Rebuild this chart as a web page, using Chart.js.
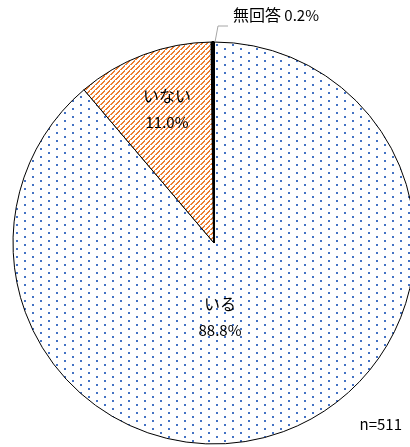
<!DOCTYPE html>
<html>
<head>
<meta charset="utf-8">
<script src="https://cdn.jsdelivr.net/npm/chart.js@4"></script>
<style>
  html, body { margin: 0; padding: 0; background: #fff; overflow: hidden; }
  #wrap { width: 410px; height: 447px; overflow: hidden; position: relative; }
</style>
</head>
<body>
<div id="wrap"><canvas id="pie" width="430" height="447"></canvas></div>
<script>
const categories = ["いる", "いない", "無回答"];
const values = [88.8, 11.0, 0.2];
const sampleNote = "n=511";

// dotted blue fill
function dotPattern() {
  const c = document.createElement("canvas");
  c.width = 16; c.height = 8;
  const g = c.getContext("2d");
  g.fillStyle = "#fff";
  g.fillRect(0, 0, 16, 8);
  g.fillStyle = "#4472C4";
  g.fillRect(0, 0, 2, 2);
  g.fillRect(8, 4, 2, 2);
  return g.createPattern(c, "repeat");
}

// orange diagonal stripes
function stripePattern() {
  const c = document.createElement("canvas");
  c.width = 5; c.height = 5;
  const g = c.getContext("2d");
  g.fillStyle = "#fff";
  g.fillRect(0, 0, 5, 5);
  g.fillStyle = "#ED7D31";
  for (let i = 0; i < 5; i++) {
    g.fillRect(i, 4 - i, 1, 1);
    if (i < 4) g.fillRect(i + 1, 4 - i, 1, 1);
  }
  return g.createPattern(c, "repeat");
}

// label offsets from the pie centre (name line; value line sits 26px lower)
const labelSpots = [[6, 61], [-47, -147], null];

const labelPlugin = {
  id: "labels",
  afterDraw(chart) {
    const ctx = chart.ctx;
    const arc = chart.getDatasetMeta(0).data[0];
    const cx = arc.x, cy = arc.y, r = arc.outerRadius;
    const jp = "16px 'Noto Sans CJK JP', 'Noto Sans', sans-serif";
    const num = "15px 'Noto Sans CJK JP', 'Noto Sans', sans-serif";
    ctx.save();
    ctx.fillStyle = "#000";
    ctx.textAlign = "center";
    ctx.textBaseline = "middle";
    labelSpots.forEach((p, i) => {
      if (!p) return;
      ctx.font = jp;
      ctx.fillText(categories[i], cx + p[0], cy + p[1]);
      ctx.font = num;
      ctx.fillText(values[i].toFixed(1) + "%", cx + p[0], cy + p[1] + 26);
    });

    // leader for 無回答
    const topY = cy - r;
    ctx.strokeStyle = "#a6a6a6";
    ctx.lineWidth = 1;
    ctx.beginPath();
    ctx.moveTo(cx + 1, topY);
    ctx.lineTo(cx + 4, topY - 16);
    ctx.lineTo(cx + 14, topY - 16);
    ctx.stroke();
    ctx.textAlign = "left";
    ctx.font = jp;
    ctx.fillText(categories[2], cx + 19, topY - 27);
    const w = ctx.measureText(categories[2]).width;
    ctx.font = num;
    ctx.fillText(" " + values[2].toFixed(1) + "%", cx + 19 + w, topY - 27);

    ctx.textAlign = "right";
    ctx.fillText(sampleNote, 402, 424);
    ctx.restore();
  }
};

new Chart(document.getElementById("pie"), {
  type: "pie",
  data: {
    labels: categories,
    datasets: [{
      data: values,
      backgroundColor: [dotPattern(), stripePattern(), "#000"],
      borderColor: "#000",
      borderWidth: [1, 1, 2]
    }]
  },
  options: {
    responsive: false,
    animation: false,
    events: [],
    layout: { padding: { left: 12, top: 41, right: 14, bottom: 2 } },
    plugins: {
      legend: { display: false },
      tooltip: { enabled: false }
    }
  },
  plugins: [labelPlugin]
});
</script>
</body>
</html>
